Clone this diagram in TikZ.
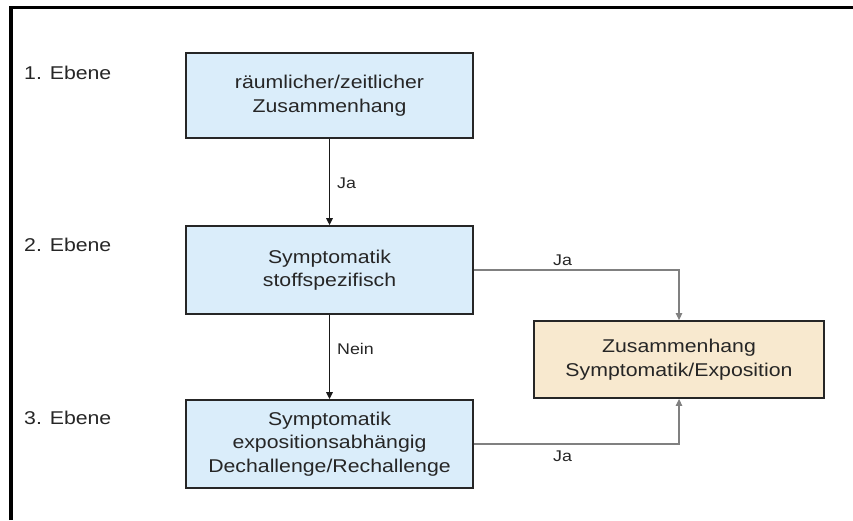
\documentclass[tikz,border=0pt]{standalone}
\usepackage{fontspec}
\setmainfont[FakeStretch=1.15]{Liberation Sans}
\usetikzlibrary{arrows.meta}
\definecolor{boxblue}{HTML}{DAEDFA}
\definecolor{boxtan}{HTML}{F8E9CF}
\definecolor{ink}{HTML}{262626}
\definecolor{linkgray}{HTML}{808080}
\begin{document}
\begin{tikzpicture}[x=1pt,y=-1pt,
  stepbox/.style={draw=ink, line width=1.8pt, fill=boxblue, align=center,
    text=ink, font=\fontsize{18.5}{23.5}\selectfont, inner sep=0pt,
    minimum width=287pt},
  resultbox/.style={stepbox, fill=boxtan, minimum width=290pt},
  level/.style={anchor=west, text=ink, font=\fontsize{18.5}{22}\selectfont, inner sep=0pt},
  tag/.style={anchor=west, text=ink, font=\fontsize{15.5}{18}\selectfont, inner sep=0pt},
  down/.style={draw=black!90, line width=1.5pt, -{Triangle[length=7pt,width=6.5pt]}},
  side/.style={draw=linkgray, line width=1.2pt, -{Triangle[length=7pt,width=6.5pt]}}]
\useasboundingbox (0,0) rectangle (853,520);

% frame along the top and left edge
\draw[line width=3.6pt, black] (11,520) -- (11,7.5) -- (853,7.5);

% level labels
\node[level] (l1) at (24,73) {1. Ebene};
\node[level] (l2) at (24,245) {2. Ebene};
\node[level] (l3) at (24,418) {3. Ebene};

% decision boxes
\node[stepbox, minimum height=85pt] (b1) at (329.5,95.5)
  {räumlicher/zeitlicher\\Zusammenhang};
\node[stepbox, minimum height=88pt] (b2) at (329.5,270)
  {Symptomatik\\stoffspezifisch};
\node[stepbox, minimum height=88pt] (b3) at (329.5,444)
  {Symptomatik\\expositionsabhängig\\Dechallenge/Rechallenge};
\node[resultbox, minimum height=77pt] (b4) at (679,359.5)
  {Zusammenhang\\Symptomatik/Exposition};

% connectors
\draw[down] (b1) -- (b2);
\draw[down] (b2) -- (b3);
\draw[side] (b2.east) -| (b4.north);
\draw[side] (b3.east) -| (b4.south);

% connector labels
\node[tag] (t1) at (337,183) {Ja};
\node[tag] (t2) at (337,349) {Nein};
\node[tag] (t3) at (553,260) {Ja};
\node[tag] (t4) at (553,456) {Ja};
\end{tikzpicture}
\end{document}
